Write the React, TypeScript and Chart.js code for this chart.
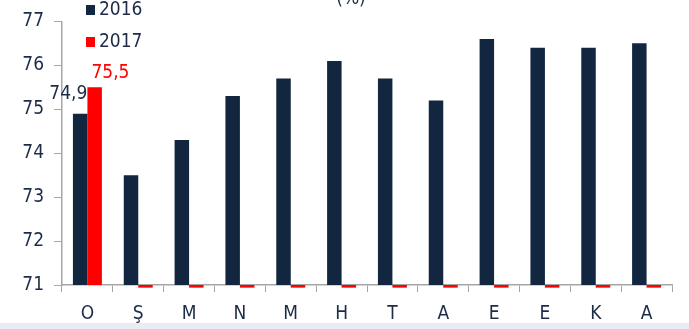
import React, { useEffect, useRef } from "react";
import { Chart, registerables } from "chart.js";

Chart.register(...registerables);

const categories = ["O", "Ş", "M", "N", "M", "H", "T", "A", "E", "E", "K", "A"];
const series2016 = [74.9, 73.5, 74.3, 75.3, 75.7, 76.1, 75.7, 75.2, 76.6, 76.4, 76.4, 76.5];
const series2017 = [75.5, 70.94, 70.94, 70.94, 70.94, 70.94, 70.94, 70.94, 70.94, 70.94, 70.94, 70.94];
const axisBase = 71;
const labels2016 = ["74,9"];
const labels2017 = ["75,5"];
const seriesNames = ["2016", "2017"];
const titleText = "(%)";

const NAVY = "#12263f";
const TEXT = "#1c2b48";
const RED = "#ff0000";
const AXIS = "#a6a6a6";
const FONT = "'DejaVu Sans Condensed', 'DejaVu Sans', sans-serif";

export default function App() {
  const ref = useRef<HTMLCanvasElement | null>(null);

  useEffect(() => {
    if (!ref.current) return;
    const overlay = {
      id: "overlay",
      afterDatasetsDraw(chart: any) {
        const ctx = chart.ctx;
        ctx.save();
        ctx.font = `19px ${FONT}`;
        const m0 = chart.getDatasetMeta(0);
        const m1 = chart.getDatasetMeta(1);
        labels2016.forEach((t, i) => {
          const b = m0.data[i];
          ctx.fillStyle = TEXT;
          ctx.textAlign = "right";
          ctx.textBaseline = "alphabetic";
          ctx.fillText(t, b.x + b.width / 2, b.y - 15);
        });
        labels2017.forEach((t, i) => {
          const b = m1.data[i];
          ctx.fillStyle = RED;
          ctx.textAlign = "left";
          ctx.textBaseline = "alphabetic";
          ctx.fillText(t, b.x - b.width / 2 + 4, b.y - 9);
        });
        const cols = [NAVY, RED];
        seriesNames.forEach((n, i) => {
          const y = 5 + i * 32;
          ctx.fillStyle = cols[i];
          ctx.fillRect(86, y, 9, 10);
          ctx.fillStyle = TEXT;
          ctx.textAlign = "left";
          ctx.textBaseline = "middle";
          ctx.fillText(n, 99, y + 5);
        });
        ctx.fillStyle = TEXT;
        ctx.textAlign = "center";
        ctx.textBaseline = "alphabetic";
        ctx.fillText(titleText, 351, 4);
        ctx.restore();
      },
    };

    const chart = new Chart(ref.current, {
      type: "bar",
      data: {
        labels: categories,
        datasets: [
          {
            label: seriesNames[0],
            data: series2016.map((v) => [axisBase, v]) as any,
            backgroundColor: NAVY,
            barPercentage: 1,
            categoryPercentage: 0.57,
          },
          {
            label: seriesNames[1],
            data: series2017.map((v) => [axisBase, v]) as any,
            backgroundColor: RED,
            barPercentage: 1,
            categoryPercentage: 0.57,
            clip: false as any,
          },
        ],
      },
      options: {
        animation: false,
        responsive: false,
        maintainAspectRatio: false,
        layout: { padding: { top: 20, right: 17, left: 0, bottom: 0 } },
        plugins: {
          legend: { display: false },
          tooltip: { enabled: false },
        },
        scales: {
          x: {
            grid: {
              display: true,
              drawOnChartArea: false,
              drawTicks: true,
              tickLength: 7,
              color: AXIS,
              offset: true,
            },
            border: { display: true, color: AXIS, width: 1.5 },
            ticks: {
              color: TEXT,
              font: { family: FONT, size: 19 },
              padding: 11,
              maxRotation: 0,
              autoSkip: false,
            },
            afterFit(scale: any) {
              scale.height = 44;
            },
          },
          y: {
            min: 71,
            max: 77,
            grid: {
              display: true,
              drawOnChartArea: false,
              drawTicks: true,
              tickLength: 8,
              color: AXIS,
            },
            border: { display: true, color: AXIS, width: 1.5 },
            ticks: {
              stepSize: 1,
              color: TEXT,
              font: { family: FONT, size: 19 },
              padding: 10,
            },
            afterFit(scale: any) {
              scale.width = 62;
            },
          },
        },
      },
      plugins: [overlay],
    });
    return () => chart.destroy();
  }, []);

  return (
    <div style={{ position: "fixed", left: 0, top: 0, width: 689, height: 329, background: "#fff" }}>
      <canvas ref={ref} width={689} height={329} style={{ display: "block", width: 689, height: 329 }} />
      <div style={{ position: "absolute", left: 0, top: 323, width: 689, height: 6, background: "#ebebf3" }} />
    </div>
  );
}
